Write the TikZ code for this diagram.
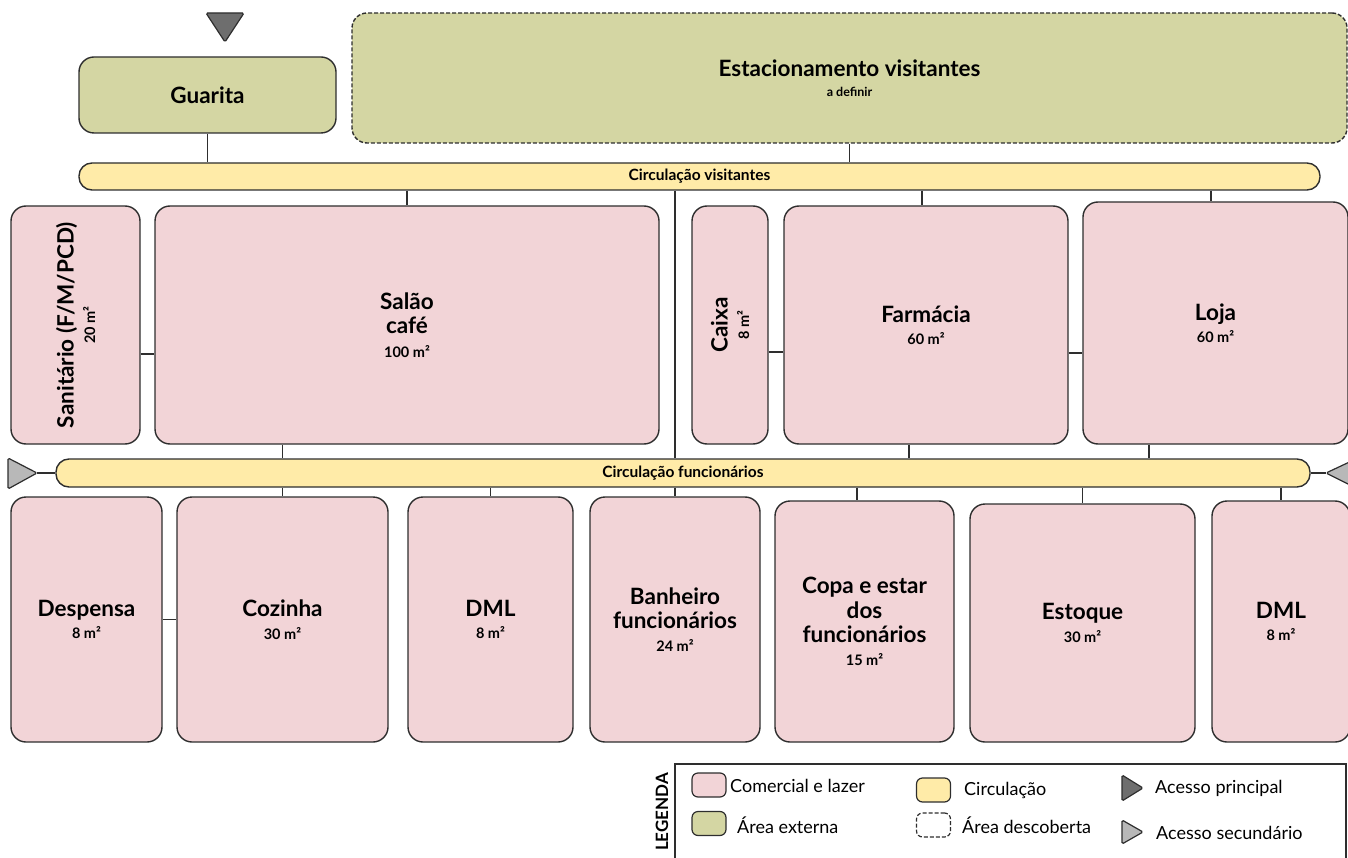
\documentclass[tikz,border=0pt]{standalone}
\usepackage{fontspec}
\setmainfont{Lato}
\usetikzlibrary{calc}

\definecolor{roompink}{HTML}{F2D4D7}
\definecolor{extolive}{HTML}{D4D6A3}
\definecolor{circyellow}{HTML}{FFEBA8}
\definecolor{edgegray}{HTML}{2E2E2E}
\definecolor{accdark}{HTML}{6E6E6E}
\definecolor{acclight}{HTML}{B8B8B8}

\newcommand\rname{\fontsize{22.5}{24.5}\selectfont\bfseries}
\newcommand\rarea[1]{{\fontsize{14.5}{16}\selectfont\bfseries #1}}
\newcommand\legtext{\fontsize{18}{20}\selectfont}

\tikzset{
  area/.style={draw=edgegray, line width=1.4pt, rounded corners=15pt,
               align=center, inner sep=0pt, font=\rname},
  room/.style={area, fill=roompink},
  outside/.style={area, fill=extolive},
  uncovered/.style={dash pattern=on 4pt off 2pt},
  circbar/.style={draw=edgegray, line width=1.4pt, fill=circyellow,
                  rounded corners=13pt, inner sep=0pt,
                  font=\fontsize{15.5}{18}\selectfont\bfseries},
  vlabel/.style={rotate=90, align=center, inner sep=0pt, font=\rname},
  link/.style={draw=edgegray, line width=1.3pt},
  access/.style={draw=edgegray, line width=1.2pt, rounded corners=1.5pt},
  swatch/.style={draw=edgegray, line width=1.2pt, rounded corners=6pt,
                 minimum width=34pt, minimum height=24pt, inner sep=0pt},
  legitem/.style={anchor=west, inner sep=0pt, font=\legtext},
}

\begin{document}
\begin{tikzpicture}[x=1pt, y=-1pt]
\useasboundingbox (0,0) rectangle (1348,858);

% ---------- access points ----------
\coordinate (accmain) at (225,42);
\coordinate (accleft) at (37,473);
\coordinate (accright) at (1326,473);

% ---------- external areas ----------
\node[outside, minimum width=257pt, minimum height=76pt] (guarita) at (207.5,95) {Guarita};
\node[outside, uncovered, minimum width=995pt, minimum height=130pt] (estac) at (849.5,78)
  {Estacionamento visitantes\\[-4pt]{\fontsize{12.5}{14}\selectfont a definir}};

% ---------- circulations ----------
\node[circbar, minimum width=1241pt, minimum height=27pt] (cvis) at (699.5,176.5) {Circulação visitantes};
\node[circbar, minimum width=1254pt, minimum height=28pt] (cfun) at (683,473) {Circulação funcionários};

% ---------- upper row ----------
\node[room, minimum width=129pt, minimum height=238pt] (sanit) at (75.5,325) {};
\node[vlabel] (sanittxt) at (sanit.center) {Sanitário (F/M/PCD)\\[-3pt]\rarea{20 m²}};
\node[room, minimum width=504pt, minimum height=238pt] (salao) at (407,325)
  {Salão\\café\\[-1pt]\rarea{100 m²}};
\node[room, minimum width=76pt, minimum height=238pt] (caixa) at (730,325) {};
\node[vlabel] (caixatxt) at (caixa.center) {Caixa\\[-3pt]\rarea{8 m²}};
\node[room, minimum width=284pt, minimum height=238pt] (farm) at (926,325)
  {Farmácia\\[-2pt]\rarea{60 m²}};
\node[room, minimum width=265pt, minimum height=242pt] (loja) at (1215.5,323)
  {Loja\\[-2pt]\rarea{60 m²}};

% ---------- lower row ----------
\node[room, minimum width=151pt, minimum height=245pt] (desp) at (86.5,619.5)
  {Despensa\\[-2pt]\rarea{8 m²}};
\node[room, minimum width=211pt, minimum height=245pt] (coz) at (282.5,619.5)
  {Cozinha\\[-2pt]\rarea{30 m²}};
\node[room, minimum width=165pt, minimum height=245pt] (dmla) at (490.5,619.5)
  {DML\\[-2pt]\rarea{8 m²}};
\node[room, minimum width=170pt, minimum height=245pt] (banh) at (675,619.5)
  {Banheiro\\funcionários\\[-2pt]\rarea{24 m²}};
\node[room, minimum width=179pt, minimum height=241pt] (copa) at (864.5,621.5)
  {Copa e estar\\dos\\funcionários\\[-2pt]\rarea{15 m²}};
\node[room, minimum width=225pt, minimum height=238pt] (estoq) at (1082.5,623)
  {Estoque\\[-2pt]\rarea{30 m²}};
\node[room, minimum width=138pt, minimum height=241pt] (dmlb) at (1281,621.5)
  {DML\\[-2pt]\rarea{8 m²}};

% ---------- links ----------
\draw[link] (guarita.south) -- (guarita.south |- cvis.north);
\draw[link] (estac.south) -- (estac.south |- cvis.north);
\draw[link] (salao.north |- cvis.south) -- (salao.north);
\draw[link] ([xshift=-4pt]farm.north |- cvis.south) -- ([xshift=-4pt]farm.north);
\draw[link] ([xshift=-4.5pt]loja.north |- cvis.south) -- ([xshift=-4.5pt]loja.north);
\draw[link] (banh.north |- cvis.south) -- (banh.north |- cfun.north);
\draw[link] ([yshift=-29pt]sanit.east) -- ([yshift=-29pt]sanit.east -| salao.west);
\draw[link] ([yshift=-27pt]caixa.east) -- ([yshift=-27pt]caixa.east -| farm.west);
\draw[link] ([yshift=-28pt]farm.east) -- ([yshift=-28pt]farm.east -| loja.west);
\draw[link] (salao.south -| coz.north) -- (coz.north |- cfun.north);
\draw[link] ([xshift=-17pt]farm.south) -- ([xshift=-17pt]farm.south |- cfun.north);
\draw[link] ([xshift=-66.5pt]loja.south) -- ([xshift=-66.5pt]loja.south |- cfun.north);
\draw[link] (coz.north |- cfun.south) -- (coz.north);
\draw[link] (dmla.north |- cfun.south) -- (dmla.north);
\draw[link] (banh.north |- cfun.south) -- (banh.north);
\draw[link] ([xshift=-7.5pt]copa.north |- cfun.south) -- ([xshift=-7.5pt]copa.north);
\draw[link] (estoq.north |- cfun.south) -- (estoq.north);
\draw[link] (dmlb.north |- cfun.south) -- (dmlb.north);
\draw[link] (desp.east) -- (coz.west);
\draw[link] (accleft) -- (cfun.west);
\draw[link] (accright) -- (cfun.east);

% ---------- access markers ----------
\draw[access, fill=accdark] (206,13) -- (244,13) -- (accmain) -- cycle;
\draw[access, fill=acclight] (8,458) -- (accleft) -- (8,489) -- cycle;
\draw[access, fill=acclight] (1358,458) -- (accright) -- (1358,489) -- cycle;

% ---------- legend ----------
\draw[draw=edgegray, line width=1.2pt] (675,764) rectangle (1346,880);
\node[rotate=90, inner sep=0pt, font=\fontsize{17}{20}\selectfont\bfseries] (legtitle) at (662,812) {LEGENDA};
\node[swatch, fill=roompink] (swroom) at (709,785) {};
\node[legitem] (lroom) at (730,786) {Comercial e lazer};
\node[swatch, fill=extolive] (swext) at (709,823.5) {};
\node[legitem] (lext) at (737,825) {Área externa};
\node[swatch, fill=circyellow] (swcirc) at (933.5,790) {};
\node[legitem] (lcirc) at (964,790) {Circulação};
\node[swatch, uncovered, fill=white] (swunc) at (933.5,825) {};
\node[legitem] (lunc) at (962,825) {Área descoberta};
\draw[access, fill=accdark] (1122,775) -- (1143,788) -- (1122,801) -- cycle;
\node[legitem] (lmain) at (1155,788) {Acesso principal};
\draw[access, fill=acclight] (1122,820) -- (1143,832) -- (1122,844) -- cycle;
\node[legitem] (lsec) at (1156,833) {Acesso secundário};
\end{tikzpicture}
\end{document}
